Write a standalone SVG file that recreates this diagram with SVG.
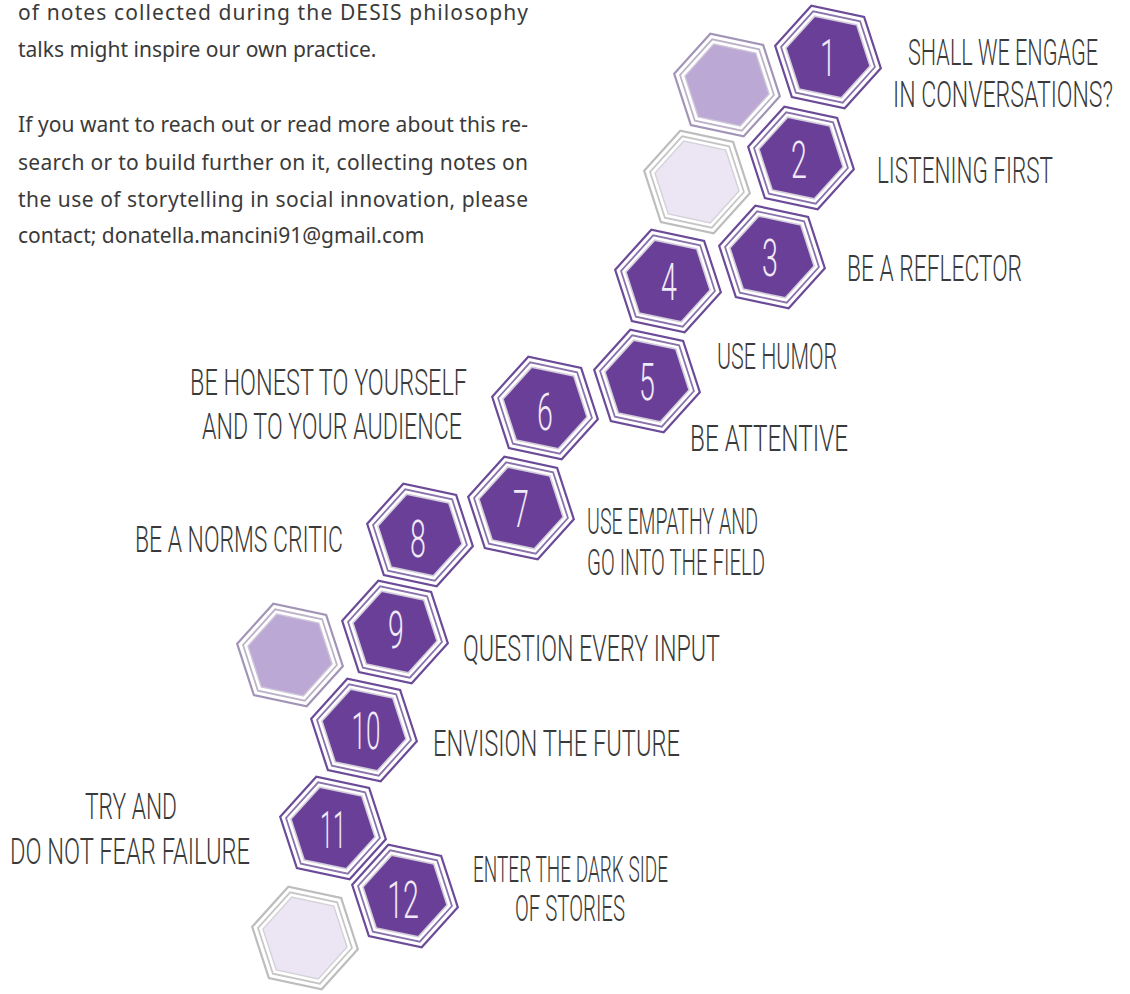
<svg xmlns="http://www.w3.org/2000/svg" xmlns:xlink="http://www.w3.org/1999/xlink" width="1130" height="994" viewBox="0 0 1130 994">
  <style>
    .para { font-family: "Noto Sans", "Open Sans", sans-serif; font-size: 21px; fill: #3a3a3a; }
    .lbl { font-family: Roboto, "Liberation Sans", sans-serif; font-weight: 300; font-size: 37px; fill: #3a3a3a; }
    .num { font-family: Roboto, "Liberation Sans", sans-serif; font-weight: 300; font-size: 52px; fill: #f1e9f7; text-anchor: middle; }
    .step .o { fill: #ffffff; stroke: #6b4a98; stroke-width: 2.2; }
    .step .m { fill: none; stroke: #8a72ad; stroke-width: 1.8; }
    .step .f { fill: #6a3f98; stroke: #d3ccdb; stroke-width: 1.6; }
    .mid .o { fill: #ffffff; stroke: #a294b6; stroke-width: 2.2; }
    .mid .m { fill: none; stroke: #bdb3c8; stroke-width: 1.8; }
    .mid .f { fill: #bca8d4; stroke: #cfc6d8; stroke-width: 1.4; }
    .pale .o { fill: #ffffff; stroke: #bdbdbd; stroke-width: 2.2; }
    .pale .m { fill: none; stroke: #c6c6c6; stroke-width: 1.8; }
    .pale .f { fill: #ece5f3; stroke: #d4d2d8; stroke-width: 1.4; }
  </style>
  <defs>
    <!-- hexagon rings, rotated 12 degrees -->
    <polygon id="ho" points="52.82,11.23 16.69,51.36 -36.13,40.13 -52.82,-11.23 -16.69,-51.36 36.13,-40.13"/>
    <polygon id="hm" points="46.95,9.98 14.83,45.65 -32.12,35.67 -46.95,-9.98 -14.83,-45.65 32.12,-35.67"/>
    <polygon id="hf" points="42.06,8.94 13.29,40.90 -28.77,31.95 -42.06,-8.94 -13.29,-40.90 28.77,-31.95"/>
  </defs>

  <rect width="1130" height="994" fill="#ffffff"/>

  <!-- body text -->
  <g id="paragraph">
    <text class="para" x="18" y="20" textLength="510">of notes collected during the DESIS philosophy</text>
    <text class="para" x="18" y="57">talks might inspire our own practice.</text>
    <text class="para" x="18" y="132" textLength="510">If you want to reach out or read more about this re-</text>
    <text class="para" x="18" y="170" textLength="510">search or to build further on it, collecting notes on</text>
    <text class="para" x="18" y="207" textLength="510">the use of storytelling in social innovation, please</text>
    <text class="para" x="18" y="243">contact; donatella.mancini91@gmail.com</text>
  </g>

  <!-- the cells sit side by side; nothing links them -->
  <g id="connectors"/>

  <!-- decorative cells -->
  <g id="cell-a" class="mid" transform="translate(727,85)"><use href="#ho" class="o"/><use href="#hm" class="m"/><use href="#hf" class="f"/></g>
  <g id="cell-b" class="pale" transform="translate(697,182)"><use href="#ho" class="o"/><use href="#hm" class="m"/><use href="#hf" class="f"/></g>
  <g id="cell-c" class="mid" transform="translate(290,655)"><use href="#ho" class="o"/><use href="#hm" class="m"/><use href="#hf" class="f"/></g>
  <g id="cell-d" class="pale" transform="translate(305,938)"><use href="#ho" class="o"/><use href="#hm" class="m"/><use href="#hf" class="f"/></g>

  <!-- numbered steps -->
  <g id="step-1" class="step" transform="translate(828,57)"><use href="#ho" class="o"/><use href="#hm" class="m"/><use href="#hf" class="f"/><text class="num" transform="translate(0,19) scale(0.55,1)">1</text></g>
  <g id="step-2" class="step" transform="translate(801,158)"><use href="#ho" class="o"/><use href="#hm" class="m"/><use href="#hf" class="f"/><text class="num" transform="translate(-2,20) scale(0.55,1)">2</text></g>
  <g id="step-3" class="step" transform="translate(772,257)"><use href="#ho" class="o"/><use href="#hm" class="m"/><use href="#hf" class="f"/><text class="num" transform="translate(-2,19) scale(0.55,1)">3</text></g>
  <g id="step-4" class="step" transform="translate(668,281)"><use href="#ho" class="o"/><use href="#hm" class="m"/><use href="#hf" class="f"/><text class="num" transform="translate(1,19) scale(0.55,1)">4</text></g>
  <g id="step-5" class="step" transform="translate(647,381)"><use href="#ho" class="o"/><use href="#hm" class="m"/><use href="#hf" class="f"/><text class="num" transform="translate(0,19) scale(0.55,1)">5</text></g>
  <g id="step-6" class="step" transform="translate(545,408)"><use href="#ho" class="o"/><use href="#hm" class="m"/><use href="#hf" class="f"/><text class="num" transform="translate(0,22) scale(0.55,1)">6</text></g>
  <g id="step-7" class="step" transform="translate(521,508)"><use href="#ho" class="o"/><use href="#hm" class="m"/><use href="#hf" class="f"/><text class="num" transform="translate(0,19) scale(0.55,1)">7</text></g>
  <g id="step-8" class="step" transform="translate(420,535)"><use href="#ho" class="o"/><use href="#hm" class="m"/><use href="#hf" class="f"/><text class="num" transform="translate(-2,22) scale(0.55,1)">8</text></g>
  <g id="step-9" class="step" transform="translate(395,632)"><use href="#ho" class="o"/><use href="#hm" class="m"/><use href="#hf" class="f"/><text class="num" transform="translate(1,16) scale(0.55,1)">9</text></g>
  <g id="step-10" class="step" transform="translate(364,730)"><use href="#ho" class="o"/><use href="#hm" class="m"/><use href="#hf" class="f"/><text class="num" transform="translate(2,19) scale(0.5,1)">10</text></g>
  <g id="step-11" class="step" transform="translate(333,828)"><use href="#ho" class="o"/><use href="#hm" class="m"/><use href="#hf" class="f"/><text class="num" transform="translate(0,20) scale(0.45,1)">11</text></g>
  <g id="step-12" class="step" transform="translate(405,896)"><use href="#ho" class="o"/><use href="#hm" class="m"/><use href="#hf" class="f"/><text class="num" transform="translate(-2,22) scale(0.55,1)">12</text></g>

  <!-- step captions: narrow caps, squeezed horizontally -->
  <g id="labels">
    <text class="lbl" transform="translate(908,65) scale(0.6,1)" textLength="316.7" lengthAdjust="spacingAndGlyphs">SHALL WE ENGAGE</text>
    <text class="lbl" transform="translate(893,107) scale(0.6,1)" textLength="366.7" lengthAdjust="spacingAndGlyphs">IN CONVERSATIONS?</text>
    <text class="lbl" transform="translate(877,183) scale(0.6,1)" textLength="293.3" lengthAdjust="spacingAndGlyphs">LISTENING FIRST</text>
    <text class="lbl" transform="translate(847,281) scale(0.6,1)" textLength="291.7" lengthAdjust="spacingAndGlyphs">BE A REFLECTOR</text>
    <text class="lbl" transform="translate(717,369) scale(0.6,1)" textLength="200" lengthAdjust="spacingAndGlyphs">USE HUMOR</text>
    <text class="lbl" transform="translate(690,451) scale(0.6,1)" textLength="263.3" lengthAdjust="spacingAndGlyphs">BE ATTENTIVE</text>
    <text class="lbl" transform="translate(190,395) scale(0.6,1)" textLength="461.7" lengthAdjust="spacingAndGlyphs">BE HONEST TO YOURSELF</text>
    <text class="lbl" transform="translate(202,439) scale(0.6,1)" textLength="433.3" lengthAdjust="spacingAndGlyphs">AND TO YOUR AUDIENCE</text>
    <text class="lbl" transform="translate(587,534) scale(0.6,1)" textLength="285" lengthAdjust="spacingAndGlyphs">USE EMPATHY AND</text>
    <text class="lbl" transform="translate(587,575) scale(0.6,1)" textLength="296.7" lengthAdjust="spacingAndGlyphs">GO INTO THE FIELD</text>
    <text class="lbl" transform="translate(135,552) scale(0.6,1)" textLength="346.7" lengthAdjust="spacingAndGlyphs">BE A NORMS CRITIC</text>
    <text class="lbl" transform="translate(463,661) scale(0.6,1)" textLength="428.3" lengthAdjust="spacingAndGlyphs">QUESTION EVERY INPUT</text>
    <text class="lbl" transform="translate(433,756) scale(0.6,1)" textLength="411.7" lengthAdjust="spacingAndGlyphs">ENVISION THE FUTURE</text>
    <text class="lbl" transform="translate(85,819) scale(0.6,1)" textLength="153.3" lengthAdjust="spacingAndGlyphs">TRY AND</text>
    <text class="lbl" transform="translate(10,864) scale(0.6,1)" textLength="400" lengthAdjust="spacingAndGlyphs">DO NOT FEAR FAILURE</text>
    <text class="lbl" transform="translate(473,882) scale(0.6,1)" textLength="325" lengthAdjust="spacingAndGlyphs">ENTER THE DARK SIDE</text>
    <text class="lbl" transform="translate(515,921) scale(0.6,1)" textLength="183.3" lengthAdjust="spacingAndGlyphs">OF STORIES</text>
  </g>
</svg>
